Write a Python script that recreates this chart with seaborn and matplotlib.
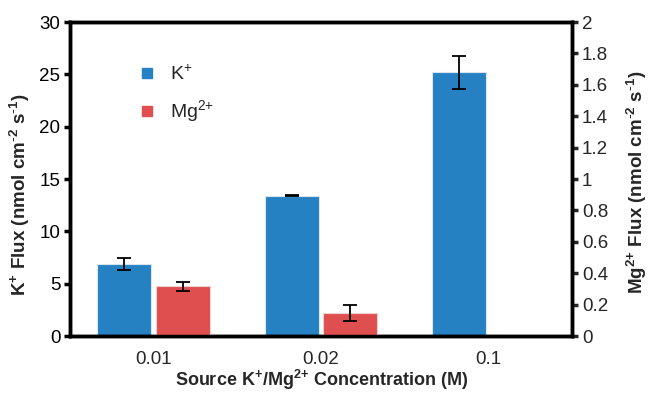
import matplotlib
matplotlib.use("Agg")
import matplotlib.pyplot as plt
import seaborn as sns
import pandas as pd
import numpy as np
from matplotlib.lines import Line2D

concentrations = ["0.01", "0.02", "0.1"]
k_flux = [6.9, 13.4, 25.2]
k_err = [0.6, 0.05, 1.6]
mg_conc = ["0.01", "0.02"]
mg_flux = [0.316, 0.145]
mg_err = [0.03, 0.05]
ions = ["K$^{{+}}$", "Mg$^{2{+}}$"]
colors = ["#2681C2", "#DF4F4F"]

sns.set_theme(style="white")
plt.rcParams["font.family"] = ["Liberation Sans", "DejaVu Sans"]
plt.rcParams["mathtext.default"] = "regular"

dfk = pd.DataFrame({"conc": concentrations, "flux": k_flux, "ion": ions[0]})
dfm = pd.DataFrame({"conc": mg_conc, "flux": mg_flux, "ion": ions[1]})

fig = plt.figure(figsize=(6.54, 3.94), dpi=100)
ax = fig.add_axes([0.107, 0.147, 0.768, 0.797])
ax2 = ax.twinx()

pal = dict(zip(ions, colors))
sns.barplot(data=dfk, x="conc", y="flux", hue="ion", hue_order=ions, order=concentrations,
            palette=pal, width=0.7, gap=0.08, dodge=True, ax=ax, edgecolor="#d8e6f2",
            linewidth=0.8, saturation=1, legend=False)
sns.barplot(data=dfm, x="conc", y="flux", hue="ion", hue_order=ions, order=concentrations,
            palette=pal, width=0.7, gap=0.08, dodge=True, ax=ax2, edgecolor="#f3d0d0",
            linewidth=0.8, saturation=1, legend=False)

def add_err(a, errs):
    bars = [p for p in a.patches if p.get_height() > 0]
    bars = sorted(bars, key=lambda p: p.get_x())
    xs = [p.get_x() + p.get_width() / 2 for p in bars]
    hs = [p.get_height() for p in bars]
    a.errorbar(xs, hs, yerr=errs[:len(xs)], fmt="none", ecolor="black",
               elinewidth=1.3, capsize=5, capthick=1.3, zorder=5)

add_err(ax, k_err)
add_err(ax2, mg_err)

ax.set_xlim(-0.5, 2.5)
ax.set_ylim(0, 30)
ax2.set_ylim(0, 2)
ax.set_yticks(np.arange(0, 31, 5))
ax2.set_yticks(np.arange(0, 2.01, 0.2))
ax2.set_yticklabels(["0", "0.2", "0.4", "0.6", "0.8", "1", "1.2", "1.4", "1.6", "1.8", "2"])

for a in (ax, ax2):
    for s in a.spines.values():
        s.set_color("black")
        s.set_linewidth(2.5)
    a.grid(False)

ax.tick_params(axis="y", left=True, length=4, width=2.5, direction="out", labelsize=13.5, colors="black", pad=3)
ax.tick_params(axis="x", bottom=False, labelsize=13.5, pad=5)
ax2.tick_params(axis="y", right=True, length=4, width=2.5, direction="out", labelsize=13.5, pad=3)

unit = r"(nmol cm$^{\text{-}2}$ s$^{\text{-}1}$)"
ax.set_xlabel("Source K$^{{+}}$/Mg$^{2{+}}$ Concentration (M)", fontsize=13, fontweight="bold", labelpad=0)
ax.set_ylabel("K$^{{+}}$ Flux " + unit, fontsize=13.5, fontweight="bold")
ax2.set_ylabel("Mg$^{2{+}}$ Flux " + unit, fontsize=13.5, fontweight="bold")
ax.yaxis.set_label_coords(-0.075, 0.45)
ax2.yaxis.set_label_coords(1.105, 0.49)

handles = [Line2D([], [], marker="s", linestyle="none", markersize=7.5, color=c) for c in colors]
ax.legend(handles, ions, loc="upper left", bbox_to_anchor=(0.08, 0.92), frameon=False,
          fontsize=14, handletextpad=0.2, labelspacing=0.75)

fig.savefig("out.png", dpi=100)
